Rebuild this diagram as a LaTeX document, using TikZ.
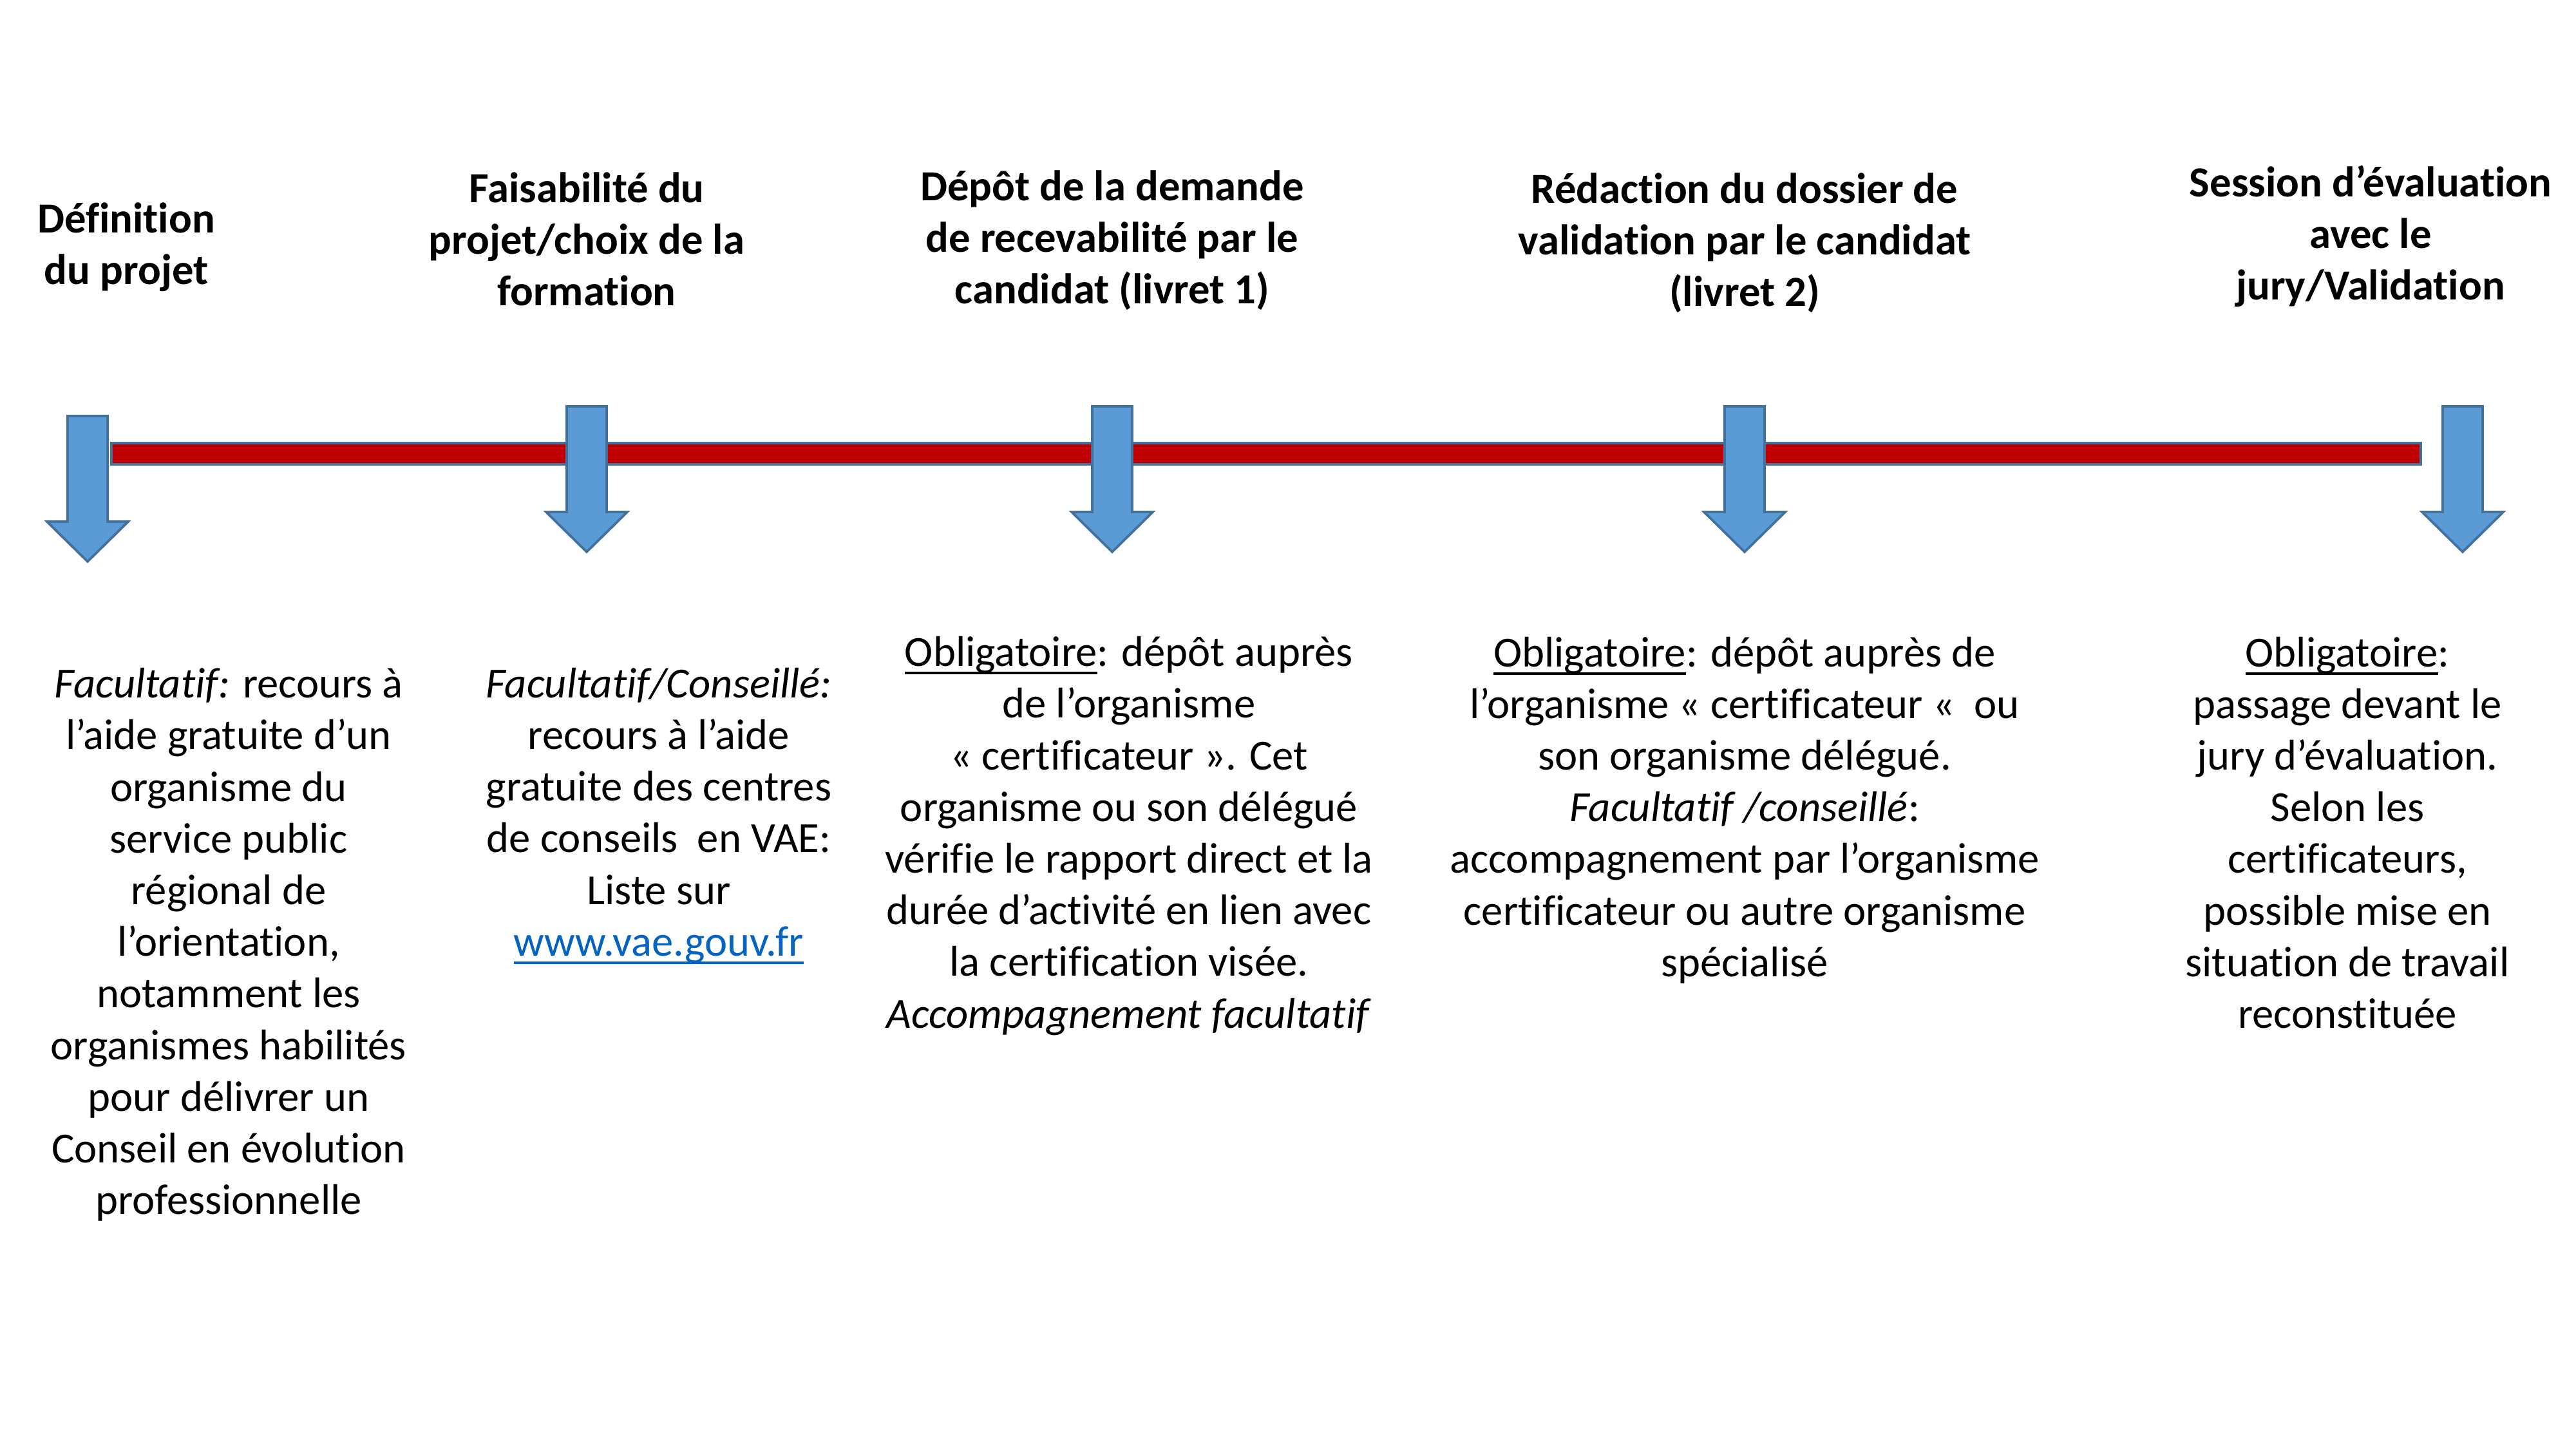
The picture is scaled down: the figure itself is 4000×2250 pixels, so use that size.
\documentclass[tikz,border=0pt]{standalone}
\usepackage{fontspec}
\setmainfont{Carlito}[Ligatures={NoCommon}]
\definecolor{arrowfill}{HTML}{5B9BD5}
\definecolor{arrowline}{HTML}{41719C}
\definecolor{barred}{HTML}{C00000}
\definecolor{linkblue}{HTML}{0563C1}
\newcommand{\ulb}[1]{\setbox0\hbox{#1}\rlap{\vrule width \wd0 height -2.1pt depth 3.0pt}\box0}
\begin{document}
\begin{tikzpicture}[x=0.24pt,y=-0.24pt,
  every node/.style={inner sep=0pt,outer sep=0pt},
  title/.style={align=center,font=\fontsize{16}{19.2}\selectfont\bfseries},
  body/.style={align=center,font=\fontsize{16}{19.25}\selectfont},
  darrow/.pic={
    \path[fill=arrowfill,draw=arrowline,line width=0.9pt,line join=miter]
      (-31,0) -- (31,0) -- (31,164) -- (63,164) -- (0,226) -- (-63,164) -- (-31,164) -- cycle;
  }]
\useasboundingbox[fill=white] (0,0) rectangle (4000,2250);

% timeline bar
\path[fill=barred,draw=arrowline,line width=0.9pt] (173,688) rectangle (3759,721);
\coordinate (barstart) at (173,704);
\coordinate (barend) at (3759,704);

% arrows
\pic (a1) at (136,646) {darrow};
\pic (a2) at (911,631) {darrow};
\pic (a3) at (1727,631) {darrow};
\pic (a4) at (2709,631) {darrow};
\pic (a5) at (3824,631) {darrow};

% titles
\node[title] (t1) at (196,384) {Définition\\du projet};
\node[title] (t2) at (911,371) {Faisabilité du\\projet/choix de la\\formation};
\node[title] (t3) at (1727,373) {Dépôt de la demande\\de recevabilité par le\\candidat (livret 1)};
\node[title] (t4) at (2709,377) {Rédaction du dossier de\\validation par le candidat\\(livret 2)};
\node[title] (t5) at (3681,367) {Session d’évaluation\\avec le\\jury/Validation};

% bodies
\node[body] (b1) at (355,1467) {\textit{Facultatif:} recours à\\l’aide gratuite d’un\\organisme du\\service public\\régional de\\l’orientation,\\notamment les\\organismes habilités\\pour délivrer un\\Conseil en évolution\\professionnelle};
\node[body] (b2) at (1023,1267) {\textit{Facultatif/Conseillé:}\\recours à l’aide\\gratuite des centres\\de conseils\ \ en VAE:\\Liste sur\\\textcolor{linkblue}{\ulb{www.vae.gouv.fr}}};
\node[body] (b3) at (1753,1298) {\ulb{Obligatoire}: dépôt auprès\\de l’organisme\\« certificateur ». Cet\\organisme ou son délégué\\vérifie le rapport direct et la\\durée d’activité en lien avec\\la certification visée.\\\textit{Accompagnement facultatif}};
\node[body] (b4) at (2709,1258) {\ulb{Obligatoire}: dépôt auprès de\\l’organisme « certificateur «\ \ ou\\son organisme délégué.\\\textit{Facultatif /conseillé}:\\accompagnement par l’organisme\\certificateur ou autre organisme\\spécialisé};
\node[body] (b5) at (3645,1293) {\ulb{Obligatoire}:\\passage devant le\\jury d’évaluation.\\Selon les\\certificateurs,\\possible mise en\\situation de travail\\reconstituée};
\end{tikzpicture}
\end{document}
